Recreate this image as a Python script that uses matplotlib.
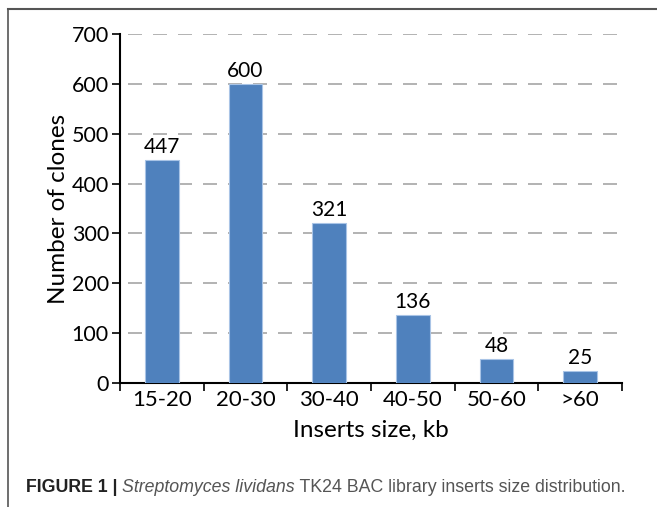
import matplotlib.pyplot as plt
import numpy as np

categories = ['15-20', '20-30', '30-40', '40-50', '50-60', '>60']
clones = [447, 600, 321, 136, 48, 25]
yticks = [0, 100, 200, 300, 400, 500, 600, 700]

fig = plt.figure(figsize=(6.57, 5.07), dpi=100)
W, H = 657, 507
ax = fig.add_axes([120 / W, 1 - 383 / H, 502 / W, 349 / H])

font = ['Lato', 'DejaVu Sans']
x = np.arange(len(categories))
ax.bar(x, clones, width=0.4, color='#4f81bd', edgecolor='#a9c4e6', linewidth=0.8, zorder=3)
for xi, v in zip(x, clones):
    ax.text(xi, v + 6, str(v), ha='center', va='bottom', fontsize=15, family=font)

ax.set_xlim(-0.5, len(categories) - 0.5)
ax.set_ylim(0, 700)
ax.set_yticks(yticks)
ax.set_yticklabels([str(t) for t in yticks], fontsize=15.5, family=font)
ax.set_xticks(x)
ax.set_xticklabels(categories, fontsize=16, family=font)
ax.set_xticks(np.arange(len(categories) + 1) - 0.5, minor=True)
ax.tick_params(axis='x', which='major', length=0, pad=5)
ax.tick_params(axis='x', which='minor', length=6, width=1.2, direction='out')
ax.tick_params(axis='y', length=6, width=1.2, pad=2)
for y in yticks[1:]:
    ax.plot([0.015, 1], [y, y], transform=ax.get_yaxis_transform(), color='#a6a6a6',
            lw=1.2, dashes=(8.4, 6.6), zorder=1)
for s in ['top', 'right']:
    ax.spines[s].set_visible(False)
ax.spines['left'].set_linewidth(1.5)
ax.spines['bottom'].set_linewidth(1.5)
ax.set_ylabel('Number of clones', fontsize=17.5, family=font, labelpad=2)
ax.set_xlabel('Inserts size, kb', fontsize=17.5, family=font, labelpad=7)

# frame lines (top and left)
fig.add_artist(plt.Line2D([8 / W, 1], [1 - 9 / H, 1 - 9 / H], color='#555555', lw=1.5))
fig.add_artist(plt.Line2D([8 / W, 8 / W], [0, 1 - 9 / H], color='#555555', lw=1.2))

# caption
cap_y = 1 - 492 / H
parts = [('FIGURE 1 | ', 'bold', 'normal', '#222222'),
         ('Streptomyces lividans', 'normal', 'italic', '#555555'),
         (' TK24 BAC library inserts size distribution.', 'normal', 'normal', '#555555')]
fig.canvas.draw()
r = fig.canvas.get_renderer()
xpos = 26 / W
for txt, wt, st, col in parts:
    t = fig.text(xpos, cap_y, txt, fontsize=12.8, weight=wt, style=st, color=col,
                 family=['Liberation Sans', 'DejaVu Sans'], va='baseline')
    bb = t.get_window_extent(renderer=r)
    xpos += bb.width / W

fig.savefig('out.png', dpi=100)
